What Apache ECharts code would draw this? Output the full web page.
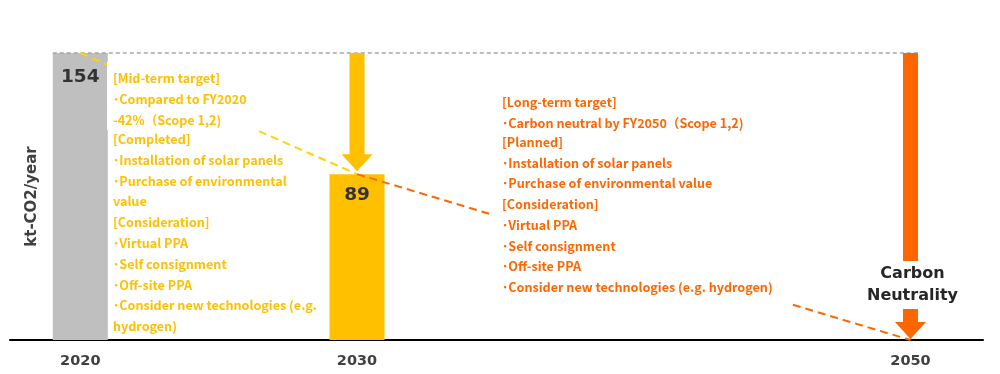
<!DOCTYPE html>
<html>
<head>
<meta charset="utf-8">
<script src="https://cdn.jsdelivr.net/npm/echarts@6/dist/echarts.min.js"></script>
<style>html,body{margin:0;padding:0;background:#fff;}#c{width:1000px;height:374px;}</style>
</head>
<body>
<div id="c"></div>
<script>
// ---- data ----
const yearTicks = [2020, 2030, 2050];
const barYears = [2020, 2030];
const barValues = [154, 89];
const midTermPath = [[2020, 154], [2030, 89]];
const longTermPath = [[2030, 89], [2050, 0]];
const arrowYears = [2030, 2050];
const arrowFrom = [154, 154];
const arrowTo = [89, 0];
const arrowLabels = ['', 'Carbon\nNeutrality'];
const baselineValue = 154;
const yAxisName = 'kt-CO2/year';
const midTermHead = ['[Mid-term target]', '･Compared to FY2020', '-42%（Scope 1,2)'];
const midTermBody = ['[Completed]', '･Installation of solar panels', '･Purchase of environmental', 'value',
  '[Consideration]', '･Virtual PPA', '･Self consignment', '･Off-site PPA',
  '･Consider new technologies (e.g.', 'hydrogen)'];
const longTermHead = ['[Long-term target]', '･Carbon neutral by FY2050（Scope 1,2)'];
const longTermBody = ['[Planned]', '･Installation of solar panels', '･Purchase of environmental value',
  '[Consideration]', '･Virtual PPA', '･Self consignment', '･Off-site PPA',
  '･Consider new technologies (e.g. hydrogen)'];

// ---- styles ----
const GRAY = '#BFBFBF', YELLOW = '#FFC000', ORANGE = '#FF6600', LINEYELLOW = '#FFD400';
const TXT = '"Noto Sans CJK JP", "Noto Sans", sans-serif';
const BAR_W = 55;

const chart = echarts.init(document.getElementById('c'), null, {renderer: 'canvas'});

function arrowItem(params, api) {
  const idx = params.dataIndex;
  const top = api.coord([api.value(0), api.value(1)]);
  const bot = api.coord([api.value(0), api.value(2)]);
  const x = top[0];
  const tipY = bot[1] - (api.value(2) > 0 ? 3 : 1);
  const half = 7.5, headHalf = 15.5, headLen = 17;
  const color = idx === 0 ? YELLOW : ORANGE;
  const children = [{
    type: 'polygon',
    shape: {points: [[x - half, top[1]], [x + half, top[1]], [x + half, tipY - headLen], [x + headHalf, tipY - headLen],
      [x, tipY], [x - headHalf, tipY - headLen], [x - half, tipY - headLen]]},
    style: {fill: color}
  }];
  const lbl = arrowLabels[idx];
  if (lbl) {
    children.push({
      type: 'text', z2: 10,
      style: {x: x + 2, y: tipY - 54, text: lbl, align: 'center', verticalAlign: 'middle',
        fill: '#262626', font: 'bold 16px "DejaVu Sans", sans-serif', lineHeight: 22,
        backgroundColor: '#fff', padding: [2, 0]}
    });
  }
  return {type: 'group', children};
}

function textLines(lines, left, top, lh, color) {
  return lines.map((t, i) => ({
    type: 'text', left: left, top: top + i * lh, z: 101,
    style: {text: t, fill: color, font: 'bold 12.6px ' + TXT}
  }));
}

const graphics = [
  {type: 'rect', shape: {x: 107, y: 62, width: 150, height: 68}, style: {fill: '#fff'}, z: 100},
  {type: 'rect', shape: {x: 493, y: 92, width: 296, height: 216}, style: {fill: '#fff'}, z: 100}
]
  .concat(textLines(midTermHead, 113, 72, 21, YELLOW))
  .concat(textLines(midTermBody, 113, 133, 20.8, YELLOW))
  .concat(textLines(longTermHead, 502, 96, 21, ORANGE))
  .concat(textLines(longTermBody, 502, 136, 20.7, ORANGE));

chart.setOption({
  animation: false,
  grid: {left: 10, right: 17, top: 53, bottom: 34},
  xAxis: {
    type: 'value', min: 2017.46, max: 2052.62,
    splitLine: {show: false},
    axisLine: {show: true, onZero: false, lineStyle: {color: '#000', width: 2}},
    axisTick: {show: false},
    axisLabel: {customValues: yearTicks, formatter: v => String(v), color: '#404040',
      fontFamily: '"DejaVu Sans", sans-serif', fontWeight: 'bold', fontSize: 14.5, margin: 14}
  },
  yAxis: {
    type: 'value', min: 0, max: 154,
    name: yAxisName, nameLocation: 'middle', nameRotate: 90, nameGap: -30,
    nameTextStyle: {color: '#404040', fontFamily: '"DejaVu Sans", sans-serif', fontWeight: 'bold', fontSize: 15},
    axisLine: {show: false}, axisTick: {show: false}, axisLabel: {show: false}, splitLine: {show: false}
  },
  series: [
    {
      type: 'bar', barWidth: BAR_W, z: 2,
      data: barYears.map((y, i) => ({value: [y, barValues[i]], itemStyle: {color: i === 0 ? GRAY : YELLOW},
        label: {distance: i === 0 ? 15 : 12}})),
      label: {show: true, position: 'insideTop', color: '#333', fontSize: 18.5, fontWeight: 'bold',
        fontFamily: '"DejaVu Sans", sans-serif', formatter: p => String(p.value[1])}
    },
    {
      type: 'custom', z: 3,
      renderItem: (params, api) => {
        const a = api.coord([api.value(0), api.value(2)]);
        const b = api.coord([api.value(1), api.value(2)]);
        return {type: 'line', shape: {x1: a[0] - BAR_W / 2, y1: a[1], x2: b[0] + 7.5, y2: b[1]},
          style: {stroke: '#A6A6A6', lineWidth: 1.5, lineDash: [4, 3]}};
      },
      data: [[yearTicks[0], yearTicks[2], baselineValue]]
    },
    {
      type: 'custom', z: 4, renderItem: arrowItem,
      data: arrowYears.map((y, i) => [y, arrowFrom[i], arrowTo[i]])
    },
    {
      type: 'line', z: 5, symbol: 'none', data: midTermPath,
      lineStyle: {color: LINEYELLOW, width: 2, type: [8, 5]}
    },
    {
      type: 'line', z: 5, symbol: 'none', data: longTermPath,
      lineStyle: {color: ORANGE, width: 2, type: [8, 5]}
    }
  ],
  graphic: graphics
});
</script>
</body>
</html>
